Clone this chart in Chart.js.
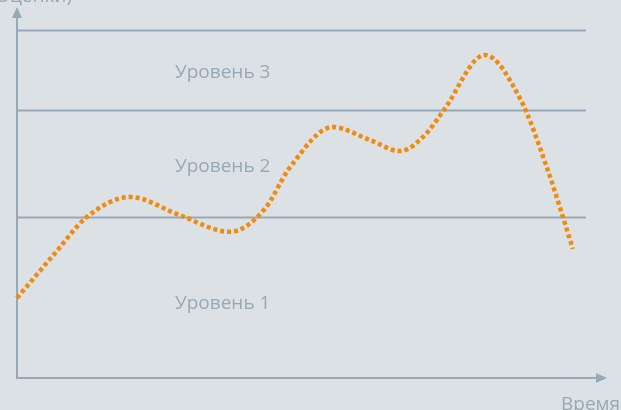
<!DOCTYPE html>
<html>
<head>
<meta charset="utf-8">
<script src="https://cdn.jsdelivr.net/npm/chart.js@4"></script>
<style>
  html, body { margin: 0; padding: 0; background: #dce1e5; overflow: hidden; }
  canvas { display: block; }
</style>
</head>
<body>
<canvas id="chart" width="621" height="410"></canvas>
<script>
// time points (0..100) and score values (0..100)
const timePoints = [0, 6.5, 12.3, 19.9, 28.6, 37.4, 43.5, 48.0, 55.5, 62.0, 67.3, 71.5, 74.9, 82.2, 88.5, 93.1, 97.7];
const scores     = [23.0, 35.5, 46.3, 52.0, 46.8, 42.0, 48.5, 60.6, 72.1, 68.4, 65.2, 69.5, 76.7, 92.8, 80.0, 60.6, 37.1];

// upper bounds of the levels
const levelBounds = [46.3, 77, 100];
const levelNames = ["Уровень 1", "Уровень 2", "Уровень 3"];
const levelLabelY = [19.8, 59.2, 86.2];
const axisTitles = { y: "(Оценки)", x: "Время" };

const lineColor = "#97a9b6";
const textColor = "#97a9b6";

const points = timePoints.map((t, i) => ({ x: t, y: scores[i] }));

const decor = {
  id: "decor",
  beforeDatasetsDraw(chart) {
    const { ctx, scales: { x, y } } = chart;
    const x0 = x.getPixelForValue(x.min), x1 = x.getPixelForValue(x.max);
    const y0 = y.getPixelForValue(y.min);
    ctx.save();
    ctx.strokeStyle = lineColor;
    ctx.fillStyle = lineColor;
    ctx.lineWidth = 2;
    // level lines
    levelBounds.forEach(v => {
      const py = Math.round(y.getPixelForValue(v)) + 0.5;
      ctx.beginPath();
      ctx.moveTo(x0, py);
      ctx.lineTo(x1, py);
      ctx.stroke();
    });
    // y axis with arrow
    const ax = Math.round(x0);
    ctx.beginPath();
    ctx.moveTo(ax, y0 + 1);
    ctx.lineTo(ax, 16);
    ctx.stroke();
    ctx.beginPath();
    ctx.moveTo(ax, 7);
    ctx.lineTo(ax - 5, 18);
    ctx.lineTo(ax + 5, 18);
    ctx.closePath();
    ctx.fill();
    // x axis with arrow
    const ay = Math.round(y0);
    ctx.beginPath();
    ctx.moveTo(ax - 1, ay);
    ctx.lineTo(598, ay);
    ctx.stroke();
    ctx.beginPath();
    ctx.moveTo(607, ay);
    ctx.lineTo(596, ay - 5);
    ctx.lineTo(596, ay + 5);
    ctx.closePath();
    ctx.fill();
    // texts
    ctx.font = "19px 'Open Sans'";
    ctx.fillStyle = textColor;
    ctx.textBaseline = "alphabetic";
    ctx.textAlign = "left";
    levelNames.forEach((name, i) => {
      ctx.fillText(name, 175, y.getPixelForValue(levelLabelY[i]));
    });
    ctx.fillText(axisTitles.x, 561, 410);
    ctx.textAlign = "right";
    ctx.fillText(axisTitles.y, 72, 2);
    ctx.restore();
  }
};

new Chart(document.getElementById("chart"), {
  type: "line",
  data: {
    datasets: [{
      data: points,
      borderColor: "#f38a0c",
      borderWidth: 4.5,
      borderDash: [4, 3],
      borderCapStyle: "butt",
      cubicInterpolationMode: "monotone",
      pointRadius: 0,
      fill: false,
      clip: false
    }]
  },
  options: {
    responsive: false,
    animation: false,
    layout: { padding: { left: 17, right: 35, top: 30, bottom: 32 } },
    plugins: { legend: { display: false }, tooltip: { enabled: false } },
    scales: {
      x: { type: "linear", min: 0, max: 100, display: false },
      y: { min: 0, max: 100, display: false }
    }
  },
  plugins: [decor]
});
</script>
</body>
</html>
